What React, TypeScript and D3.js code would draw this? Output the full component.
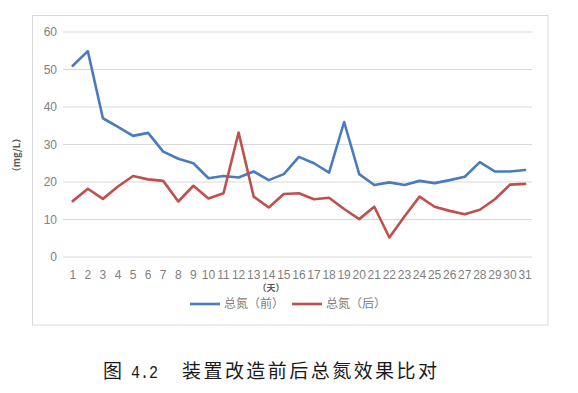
import React from "react";
import * as d3 from "d3";

const days: number[] = d3.range(1, 32);
const before: number[] = [
  51.0, 54.9, 37.0, 34.7, 32.3, 33.1, 28.1, 26.2, 25.0, 21.0,
  21.6, 21.2, 22.8, 20.5, 22.1, 26.7, 25.0, 22.5, 36.0, 22.1,
  19.2, 19.9, 19.2, 20.3, 19.7, 20.5, 21.4, 25.3, 22.8, 22.8, 23.2,
];
const after: number[] = [
  14.9, 18.2, 15.5, 18.8, 21.6, 20.7, 20.3, 14.8, 19.0, 15.6,
  17.0, 33.2, 16.1, 13.2, 16.8, 17.0, 15.4, 15.8, 12.8, 10.1,
  13.4, 5.2, 10.8, 16.1, 13.4, 12.3, 11.4, 12.6, 15.4, 19.3, 19.5,
];
const yTicks: number[] = [0, 10, 20, 30, 40, 50, 60];
const seriesNames: string[] = ["总氮（前）", "总氮（后）"];
const seriesColors: string[] = ["#4a7bbd", "#c0504d"];
const yTitle = "（mg/L）";
const xTitle = "（天）";
const captionFig = "图";
const captionNum = "4.2";
const captionText = "装置改造前后总氮效果比对";

export default function App() {
  const x = d3
    .scalePoint<number>()
    .domain(days)
    .range([65.2, 532.6])
    .padding(0.5);
  const y = d3.scaleLinear().domain([0, 60]).range([257, 32]);
  const line = d3
    .line<number>()
    .x((_, i) => x(days[i]) as number)
    .y((d) => y(d));
  const series = [before, after];
  const tickFont = "'Liberation Sans', Arial, sans-serif";
  const cjk = "'Noto Sans CJK SC', sans-serif";
  return (
    <svg
      width={578}
      height={393}
      style={{ position: "absolute", left: 0, top: 0, background: "#fff" }}
    >
      <rect x={0} y={0} width={578} height={393} fill="#fff" />
      <rect
        x={32.5}
        y={15.5}
        width={515.5}
        height={309.5}
        fill="#fff"
        stroke="#d9d9d9"
        strokeWidth={1}
      />
      {yTicks.map((t) => (
        <g key={t}>
          <line
            x1={63}
            x2={532}
            y1={y(t)}
            y2={y(t)}
            stroke="#d9d9d9"
            strokeWidth={1.2}
          />
          <text
            x={57}
            y={y(t)}
            dy="0.35em"
            textAnchor="end"
            fontFamily={tickFont}
            fontSize={12}
            fill="#808080"
          >
            {t}
          </text>
        </g>
      ))}
      {days.map((d) => (
        <text
          key={d}
          x={x(d) as number}
          y={275}
          dy="0.35em"
          textAnchor="middle"
          fontFamily={tickFont}
          fontSize={12}
          fill="#808080"
        >
          {d}
        </text>
      ))}
      <text
        x={271}
        y={288}
        dy="0.35em"
        textAnchor="middle"
        fontFamily={cjk}
        fontSize={9}
        fontWeight="bold"
        fill="#595959"
      >
        {xTitle}
      </text>
      <text
        transform="translate(17,155) rotate(-90)"
        textAnchor="middle"
        dy="0.35em"
        fontFamily={cjk}
        fontSize={9.5}
        fontWeight="bold"
        fill="#595959"
      >
        {yTitle}
      </text>
      {series.map((s, i) => (
        <path
          key={i}
          d={line(s) || ""}
          fill="none"
          stroke={seriesColors[i]}
          strokeWidth={2.6}
          strokeLinejoin="round"
          strokeLinecap="round"
        />
      ))}
      {seriesNames.map((n, i) => {
        const lx = i === 0 ? 190 : 292;
        return (
          <g key={n}>
            <line
              x1={lx}
              x2={lx + 30}
              y1={304}
              y2={304}
              stroke={seriesColors[i]}
              strokeWidth={2.6}
            />
            <text
              x={lx + 34}
              y={304}
              dy="0.35em"
              fontFamily={cjk}
              fontSize={12}
              fill="#808080"
            >
              {n}
            </text>
          </g>
        );
      })}
      <text
        x={103}
        y={371}
        dy="0.35em"
        fontFamily={cjk}
        fontSize={19}
        fill="#1a1a1a"
      >
        {captionFig}
      </text>
      <text
        x={131}
        y={371}
        dy="0.35em"
        fontFamily="'Liberation Mono', 'DejaVu Sans Mono', monospace"
        fontSize={19}
        textLength={27}
        lengthAdjust="spacingAndGlyphs"
        fill="#1a1a1a"
      >
        {captionNum}
      </text>
      <text
        x={182}
        y={371}
        dy="0.35em"
        fontFamily={cjk}
        fontSize={19}
        textLength={255}
        lengthAdjust="spacing"
        fill="#1a1a1a"
      >
        {captionText}
      </text>
    </svg>
  );
}
